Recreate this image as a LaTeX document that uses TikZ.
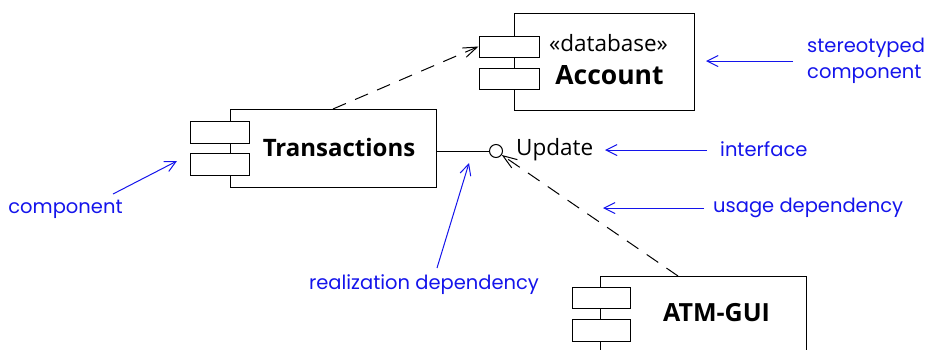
\documentclass[tikz,border=0pt]{standalone}
\usepackage{fontspec}
\setmainfont{Open Sans}
\newfontfamily\notefont{Poppins}
\usetikzlibrary{arrows.meta}
\definecolor{noteblue}{RGB}{20,20,235}
\begin{document}
\begin{tikzpicture}[x=1pt,y=-1pt,
  box/.style={draw,line width=1pt,fill=white,inner sep=0pt},
  dep/.style={draw,line width=1pt,dash pattern=on 14pt off 10pt,-{Straight Barb[length=14pt,width=10pt,line width=1pt]}},
  note/.style={text=noteblue,font=\notefont\fontsize{19.5}{26}\selectfont,inner sep=0pt,align=left},
  notearrow/.style={draw=noteblue,line width=1pt,-{Straight Barb[length=11pt,width=11pt,line width=1pt]}},
  bold/.style={font=\bfseries\fontsize{#1}{28}\selectfont,inner sep=0pt},
  reg/.style={font=\fontsize{22.5}{26}\selectfont,inner sep=0pt}]
\useasboundingbox (0,0) rectangle (926,349);
\clip (0,0) rectangle (926,349);
% Transactions component
\node[box,minimum width=206pt,minimum height=78pt] (trans) at (333,148) {};
\node[box,minimum width=59pt,minimum height=22pt] (tr1) at (219.5,132) {};
\node[box,minimum width=59pt,minimum height=22pt] (tr2) at (219.5,164) {};
\node[bold=24] (transtxt) at (339,147) {Transactions};
% Account component
\node[box,minimum width=180pt,minimum height=97pt] (acc) at (604,61.5) {};
\node[box,minimum width=60pt,minimum height=21pt] (ac1) at (509,46.5) {};
\node[box,minimum width=60pt,minimum height=21pt] (ac2) at (509,78.5) {};
\node[reg] (stereo) at (608.5,43) {«database»};
\node[bold=26.5] (acctxt) at (609.5,75) {Account};
% ATM-GUI component
\node[box,minimum width=206pt,minimum height=100pt] (atm) at (703,326) {};
\node[box,minimum width=58pt,minimum height=21pt] (at1) at (601,297.5) {};
\node[box,minimum width=58pt,minimum height=22pt] (at2) at (601,330) {};
\node[bold=25] (atmtxt) at (716.5,313) {ATM-GUI};
% interface
\node[draw,circle,line width=1pt,minimum size=13pt,inner sep=0pt,fill=white] (upd) at (496,151) {};
\node[reg,anchor=west] (updtxt) at (516,150) {Update};
\coordinate (transE) at (436,151);
\draw[line width=1pt] (transE) -- (upd.west);
% dependencies
\coordinate (transTop) at (333,109);
\coordinate (atmTop) at (678,276);
\draw[dep] (transTop) -- (ac1.west);
\draw[dep] (atmTop) -- (upd);
% notes
\node[note,anchor=west] (nstereo) at (807,61) {stereotyped\\component};
\node[note,anchor=west] (ninter) at (720,149) {interface};
\node[note,anchor=west] (nusage) at (713,208) {usage dependency};
\node[note] (nreal) at (424,285) {realization dependency};
\node[note] (ncomp) at (65.5,209) {component};
\coordinate (s1) at (793,61); \coordinate (t1) at (706,61);
\coordinate (s2) at (707,150); \coordinate (t2) at (605,150);
\coordinate (s3) at (704,208); \coordinate (t3) at (603,208);
\coordinate (s4) at (437,268); \coordinate (t4) at (469,163);
\coordinate (s5) at (113,194); \coordinate (t5) at (177,161);
\draw[notearrow] (s1) -- (t1);
\draw[notearrow] (s2) -- (t2);
\draw[notearrow] (s3) -- (t3);
\draw[notearrow] (s4) -- (t4);
\draw[notearrow] (s5) -- (t5);
\end{tikzpicture}
\end{document}
